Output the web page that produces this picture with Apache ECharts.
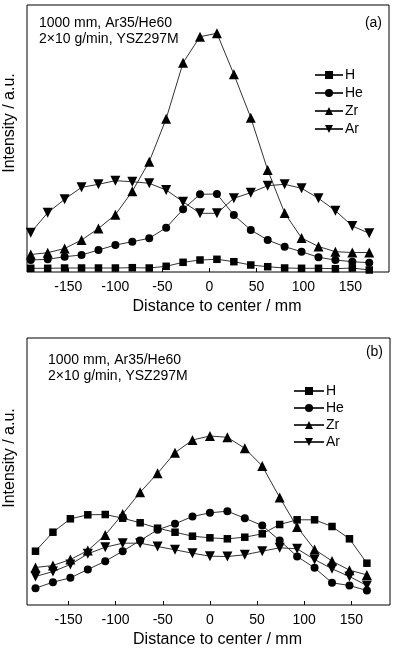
<!DOCTYPE html>
<html>
<head>
<meta charset="utf-8">
<script src="https://cdn.jsdelivr.net/npm/echarts@6/dist/echarts.min.js"></script>
<style>
    html, body { margin: 0; padding: 0; background: #fff; }
    #main { width: 397px; height: 654px; }
</style>
</head>
<body>
<div id="main"></div>
<script>
    // panel (a) - distance positions and intensities (a.u.)
    var xA = [-190, -172, -154, -136, -118, -100, -82, -64, -46, -28, -10, 8, 26, 44, 62, 80, 98, 116, 134, 152, 170];
    var hA = [3.7, 3.7, 4, 4, 4, 4, 4.3, 4, 5.7, 9.7, 12, 12.7, 10.3, 7, 5.3, 4, 3.7, 3.7, 3.3, 4, 2];
    var heA = [12, 12.7, 15.3, 17, 22, 27, 30.3, 33.7, 44.3, 62.7, 77.7, 78, 57, 42, 32, 25.3, 20.3, 14.7, 12, 10.3, 9.3];
    var zrA = [17.5, 19.3, 23.5, 32, 43.5, 57.3, 80.7, 110.3, 153.3, 209.3, 235.3, 238.7, 197.7, 154.3, 102, 59, 34, 25.5, 20.3, 19.5, 19.5];
    var arA = [39.3, 59.3, 72.7, 84.7, 87.7, 91.3, 90.3, 88.7, 82, 70.3, 58.7, 58.7, 73.7, 79.3, 86.3, 87.7, 83.7, 73.7, 61.3, 46, 38.7];

    // panel (b)
    var xB = [-185, -166.5, -148, -129.5, -111, -92.5, -74, -55.5, -37, -18.5, 0, 18.5, 37, 55.5, 74, 92.5, 111, 129.5, 148, 166.5];
    var hB = [53.8, 72.8, 86.2, 90.2, 90.5, 86.8, 82.2, 76.8, 72.8, 68.8, 67.2, 66.2, 67.8, 71.2, 80.5, 85.2, 85.2, 78.5, 66.2, 41.8];
    var heB = [16.8, 22.8, 27.2, 35.5, 43.8, 53.8, 64.5, 75.2, 81.2, 88.5, 92.2, 93.8, 86.8, 79.5, 64.5, 48.5, 37.2, 22.2, 19.5, 14.5];
    var zrB = [37.5, 39.5, 45.5, 54.5, 70, 91, 112.7, 131.7, 152.3, 165, 169, 167.7, 156.7, 139, 107.5, 78, 55.5, 44, 34.8, 30.1];
    var arB = [28.5, 33.5, 40.5, 51.2, 57.8, 61.8, 61.8, 58.5, 55.2, 51.8, 48.8, 48.5, 50.2, 53.8, 57.2, 56.2, 45.5, 36.2, 28.5, 19.5];

    var xTicks = [-150, -100, -50, 0, 50, 100, 150];
    var names = ['H', 'He', 'Zr', 'Ar'];
    var note1 = '1000 mm, Ar35/He60';
    var note2 = '2×10 g/min, YSZ297M';

    var font = '"Liberation Sans", Arial, sans-serif';
    var symbols = {
        'H': {symbol: 'rect', size: 7.5},
        'He': {symbol: 'circle', size: 8},
        'Zr': {symbol: 'triangle', size: 10},
        'Ar': {symbol: 'path://M0,0L10,0L5,9Z', size: 10}
    };

    function pairs(xs, ys) {
        return xs.map(function (x, i) { return [x, ys[i]]; });
    }

    function makeSeries(name, xs, ys, idx) {
        return {
            name: name,
            type: 'line',
            xAxisIndex: idx,
            yAxisIndex: idx,
            symbol: symbols[name].symbol,
            symbolSize: symbols[name].size,
            showAllSymbol: true,
            itemStyle: {color: '#000'},
            lineStyle: {color: '#333', width: 1},
            emphasis: {disabled: true},
            data: pairs(xs, ys)
        };
    }

    function makeX(idx) {
        return {
            type: 'value',
            gridIndex: idx,
            min: -194,
            max: 191,
            name: 'Distance to center / mm',
            nameLocation: 'middle',
            nameGap: 27,
            nameTextStyle: {fontFamily: font, fontSize: 16, color: '#000', padding: [0, 0, 0, 18]},
            axisLine: {show: false},
            axisTick: {show: true, inside: true, length: 4, customValues: xTicks, lineStyle: {color: '#000'}},
            axisLabel: {fontFamily: font, fontSize: 14, color: '#000', margin: 8, customValues: xTicks},
            splitLine: {show: false}
        };
    }

    function makeY(idx, max) {
        return {
            type: 'value',
            gridIndex: idx,
            min: 0,
            max: max,
            axisLine: {show: false},
            axisTick: {show: false},
            axisLabel: {show: false},
            splitLine: {show: false}
        };
    }

    function legendItem(top, left, w, gap) {
        return {
            orient: 'vertical',
            left: left,
            top: top,
            itemWidth: w,
            itemHeight: 10,
            itemGap: gap,
            selectedMode: false,
            data: names,
            textStyle: {fontFamily: font, fontSize: 14, color: '#000', lineHeight: 14, padding: [0, 0, 0, -3]}
        };
    }

    function text(x, y, s, extra) {
        var st = {text: s, font: '14px ' + font, fill: '#000', verticalAlign: 'middle'};
        for (var k in extra) st[k] = extra[k];
        return {type: 'text', x: x, y: y, style: st};
    }

    var option = {
        animation: false,
        backgroundColor: '#fff',
        grid: [
            {left: 27, top: 5, width: 362, height: 267, show: true, borderColor: '#000', borderWidth: 1, backgroundColor: 'transparent'},
            {left: 27, top: 338, width: 363, height: 267, show: true, borderColor: '#000', borderWidth: 1, backgroundColor: 'transparent'}
        ],
        xAxis: [makeX(0), makeX(1)],
        yAxis: [makeY(0, 267), makeY(1, 267)],
        legend: [legendItem(63, 309, 28, 4), legendItem(379, 288, 30, 3)],
        graphic: [
            text(39, 23, note1),
            text(39, 39, note2),
            text(382, 23, '(a)', {align: 'right'}),
            text(48, 360, note1),
            text(48, 376, note2),
            text(383, 352, '(b)', {align: 'right'}),
            {type: 'text', x: 10, y: 123, rotation: Math.PI / 2,
                style: {text: 'Intensity / a.u.', font: '16px ' + font, fill: '#000', align: 'center', verticalAlign: 'middle'}},
            {type: 'text', x: 10, y: 458, rotation: Math.PI / 2,
                style: {text: 'Intensity / a.u.', font: '16px ' + font, fill: '#000', align: 'center', verticalAlign: 'middle'}}
        ],
        series: [
            makeSeries('H', xA, hA, 0),
            makeSeries('He', xA, heA, 0),
            makeSeries('Zr', xA, zrA, 0),
            makeSeries('Ar', xA, arA, 0),
            makeSeries('H', xB, hB, 1),
            makeSeries('He', xB, heB, 1),
            makeSeries('Zr', xB, zrB, 1),
            makeSeries('Ar', xB, arB, 1)
        ]
    };

    var myChart = echarts.init(document.getElementById('main'));
    myChart.setOption(option);
</script>
</body>
</html>
